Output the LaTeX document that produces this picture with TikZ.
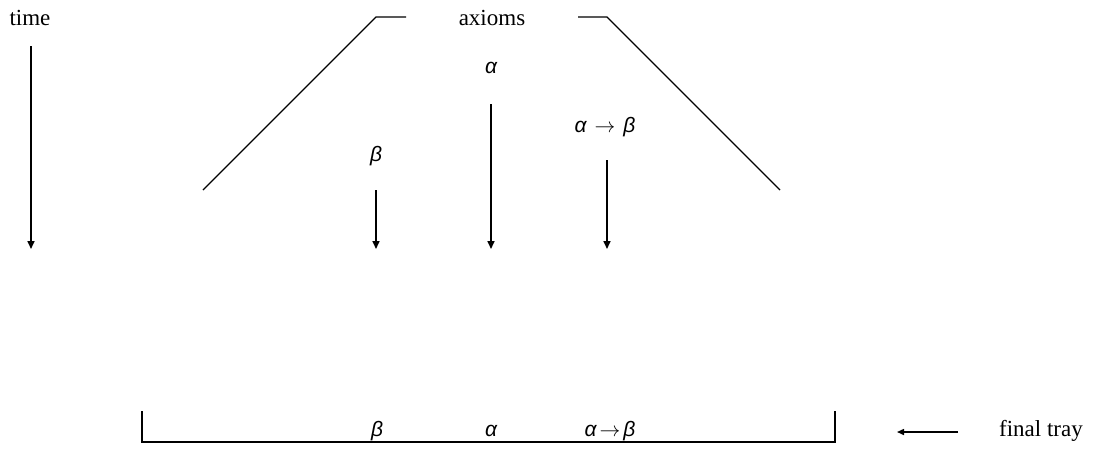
\documentclass[tikz,border=0pt]{standalone}
\usepackage{fontspec}
\setmainfont{Liberation Serif}
\newfontfamily\gk{Liberation Sans}
\usetikzlibrary{arrows.meta}
\newcommand{\tarrow}{{\kern8pt$\rightarrow$\kern8pt}}
\newcommand{\narrow}{{\kern3pt$\rightarrow$\kern3pt}}
\begin{document}
\begin{tikzpicture}[x=1pt,y=-1pt,
  lbl/.style={inner sep=0pt,font=\fontsize{23}{25}\selectfont},
  gl/.style={inner sep=0pt,font=\fontsize{21}{24}\selectfont\gk\itshape},
  flow/.style={line width=1.6pt,-{Triangle[length=8pt,width=7pt]}},
  slant/.style={line width=1.1pt},
  tray/.style={line width=1.8pt}]
\useasboundingbox (0,0) rectangle (1101,448);
% labels
\node[lbl] (time) at (30,18) {time};
\node[lbl] (ax) at (492,18) {axioms};
\node[gl] (a) at (491,68) {α};
\node[gl] (ab) at (605,127) {α\tarrow β};
\node[gl] (b) at (376,156) {β};
\node[lbl] (ft) at (1041,431) {final tray};
% coordinates
\coordinate (t0) at (31,46); \coordinate (t1) at (31,249);
\coordinate (a0) at (491,104); \coordinate (a1) at (491,249);
\coordinate (ab0) at (607,160); \coordinate (ab1) at (607,249);
\coordinate (b0) at (376,190); \coordinate (b1) at (376,249);
\coordinate (L0) at (203,190); \coordinate (L1) at (376,17); \coordinate (L2) at (406,17);
\coordinate (R0) at (578,17); \coordinate (R1) at (607,17); \coordinate (R2) at (780,190);
\coordinate (T0) at (142,411); \coordinate (T1) at (142,442); \coordinate (T2) at (835,442); \coordinate (T3) at (835,411);
\coordinate (f0) at (958,432); \coordinate (f1) at (897,432);
% connectors
\draw[flow] (t0) -- (t1);
\draw[flow] (a0) -- (a1);
\draw[flow] (ab0) -- (ab1);
\draw[flow] (b0) -- (b1);
\draw[slant] (L0) -- (L1) -- (L2);
\draw[slant] (R0) -- (R1) -- (R2);
\draw[tray] (T0) -- (T1) -- (T2) -- (T3);
\draw[line width=1.5pt,-{Triangle[length=7pt,width=6pt]}] (f0) -- (f1);
% tray contents
\node[gl] (tb) at (377,431) {β};
\node[gl] (ta) at (491,431) {α};
\node[gl] (tab) at (610,431) {α\narrow β};
\end{tikzpicture}
\end{document}
